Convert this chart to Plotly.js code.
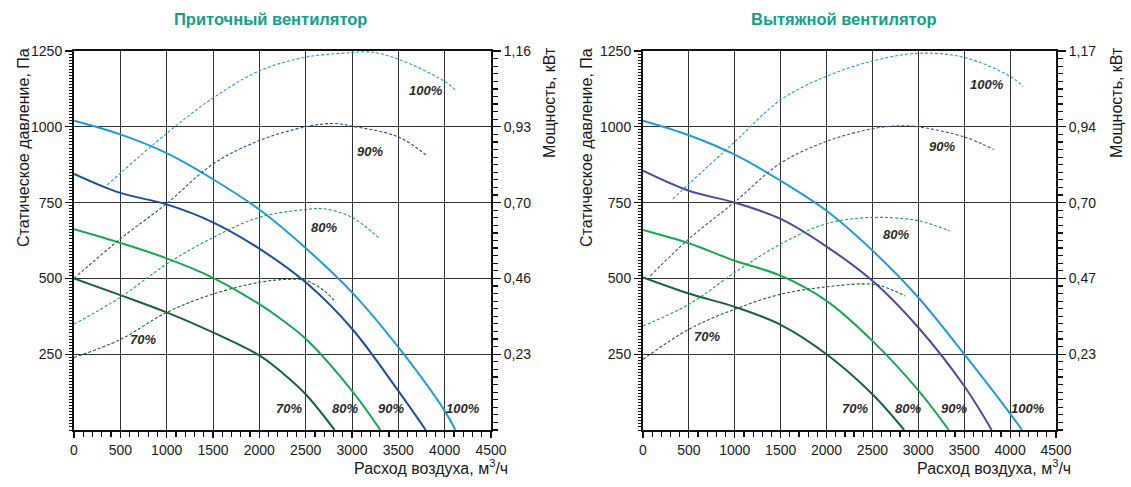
<!DOCTYPE html>
<html>
<head>
<meta charset="utf-8">
<script src="https://cdn.plot.ly/plotly-3.0.1.min.js"></script>
<style>html,body{margin:0;padding:0;background:#fff;}#chart{width:1131px;height:487px;}</style>
</head>
<body>
<div id="chart"></div>
<script>
// ---------- Titles / labels ----------
const titleLeft = "Приточный вентилятор";
const titleRight = "Вытяжной вентилятор";
const yTitlePressure = "Статическое давление, Па";
const yTitlePower = "Мощность, кВт";
const xTitle = "Расход воздуха, м<sup>3</sup>/ч";
const speedLabels = ["100%", "90%", "80%", "70%"];

// ---------- Axis ticks ----------
const xTicks = [0, 500, 1000, 1500, 2000, 2500, 3000, 3500, 4000, 4500];
const pressureTicks = [250, 500, 750, 1000, 1250];
const powerTicksLeft = [0.232, 0.464, 0.696, 0.928, 1.16];
const powerTextLeft = ["0,23", "0,46", "0,70", "0,93", "1,16"];
const powerTicksRight = [0.234, 0.468, 0.702, 0.936, 1.17];
const powerTextRight = ["0,23", "0,47", "0,70", "0,94", "1,17"];

// ---------- Left chart (supply fan): static pressure, Pa ----------
const L_p100_x = [0, 500, 1000, 1500, 2000, 2500, 3000, 3500, 4000, 4116];
const L_p100_y = [1020, 975, 913, 827, 727, 600, 454, 273, 63, 0];
const L_p90_x = [0, 500, 1000, 1500, 2000, 2500, 3000, 3500, 3796];
const L_p90_y = [845, 782, 744, 685, 598, 487, 334, 129, 0];
const L_p80_x = [0, 500, 1000, 1500, 2000, 2250, 2500, 3000, 3306];
const L_p80_y = [662, 617, 566, 502, 415, 362, 301, 129, 0];
const L_p70_x = [0, 500, 1000, 1500, 2000, 2250, 2500, 2813];
const L_p70_y = [500, 445, 388, 322, 246, 188, 118, 0];

// ---------- Left chart: power, kW ----------
const L_w100_x = [358, 1000, 1500, 2000, 2500, 3000, 3200, 3500, 4000, 4116];
const L_w100_y = [0.750, 0.908, 1.016, 1.099, 1.141, 1.155, 1.157, 1.135, 1.067, 1.041];
const L_w90_x = [0, 500, 1000, 1500, 2000, 2500, 2800, 3000, 3500, 3807];
const L_w90_y = [0.464, 0.585, 0.693, 0.814, 0.886, 0.928, 0.938, 0.930, 0.897, 0.840];
const L_w80_x = [0, 500, 1000, 1500, 2000, 2500, 2700, 3000, 3300];
const L_w80_y = [0.324, 0.406, 0.508, 0.589, 0.651, 0.675, 0.677, 0.651, 0.585];
const L_w70_x = [0, 500, 1000, 1500, 2000, 2300, 2500, 2700, 2825];
const L_w70_y = [0.222, 0.277, 0.360, 0.416, 0.452, 0.461, 0.458, 0.426, 0.391];

// ---------- Right chart (exhaust fan): static pressure, Pa ----------
const R_p100_x = [0, 500, 1000, 1500, 2000, 2500, 3000, 3500, 4000, 4129];
const R_p100_y = [1020, 972, 908, 822, 723, 592, 437, 250, 54, 0];
const R_p90_x = [0, 500, 1000, 1500, 2000, 2500, 3000, 3500, 3799];
const R_p90_y = [855, 789, 750, 696, 605, 492, 338, 145, 0];
const R_p80_x = [0, 500, 1000, 1500, 2000, 2500, 3000, 3332];
const R_p80_y = [660, 616, 558, 509, 426, 294, 131, 0];
const R_p70_x = [0, 500, 1000, 1500, 2000, 2500, 2846];
const R_p70_y = [503, 450, 406, 347, 250, 118, 0];

// ---------- Right chart: power, kW ----------
const R_w100_x = [323, 1000, 1500, 2000, 2500, 3000, 3500, 4000, 4141];
const R_w100_y = [0.713, 0.890, 1.019, 1.092, 1.139, 1.163, 1.150, 1.092, 1.061];
const R_w90_x = [80, 500, 1000, 1500, 2000, 2500, 2800, 3000, 3500, 3822];
const R_w90_y = [0.476, 0.590, 0.704, 0.824, 0.891, 0.930, 0.939, 0.936, 0.905, 0.866];
const R_w80_x = [0, 500, 1000, 1500, 2000, 2500, 3000, 3344];
const R_w80_y = [0.321, 0.388, 0.486, 0.574, 0.637, 0.656, 0.646, 0.614];
const R_w70_x = [0, 500, 1000, 1500, 2000, 2500, 2700, 2858];
const R_w70_y = [0.218, 0.311, 0.373, 0.419, 0.442, 0.450, 0.434, 0.414];

// ---------- Label positions ----------
const L_powerLabel_x = [3800, 3198, 2701, 744];
const L_powerLabel_y = [1120, 920, 669, 299];
const L_curveLabel_x = [4200, 3422, 2925, 2324];
const R_powerLabel_x = [3752, 3254, 2753, 700];
const R_powerLabel_y = [1139, 935, 645, 307];
const R_curveLabel_x = [4191, 3394, 2889, 2306];
const curveLabel_y = 70;

// ---------- Styles ----------
const cLight = '#1e9dda', cDarkBlue = '#1d4f9b', cPurple = '#4b4b9f', cGreen = '#17a852', cDarkGreen = '#17643a';
const FONT = 'Liberation Sans, Arial, sans-serif';

function solid(x, y, color, xa, ya) {
  return {x, y, xaxis: xa, yaxis: ya, mode: 'lines', type: 'scatter',
    line: {color, width: 2, shape: 'spline', smoothing: 1}, hoverinfo: 'skip', showlegend: false};
}
function dashed(x, y, color, xa, ya) {
  return {x, y, xaxis: xa, yaxis: ya, mode: 'lines', type: 'scatter',
    line: {color, width: 1.1, dash: '3px,2px', shape: 'spline', smoothing: 1}, hoverinfo: 'skip', showlegend: false};
}

const data = [
  dashed(L_w100_x, L_w100_y, cLight, 'x', 'y2'),
  dashed(L_w90_x, L_w90_y, cDarkBlue, 'x', 'y2'),
  dashed(L_w80_x, L_w80_y, cGreen, 'x', 'y2'),
  dashed(L_w70_x, L_w70_y, cDarkGreen, 'x', 'y2'),
  solid(L_p100_x, L_p100_y, cLight, 'x', 'y'),
  solid(L_p90_x, L_p90_y, cDarkBlue, 'x', 'y'),
  solid(L_p80_x, L_p80_y, cGreen, 'x', 'y'),
  solid(L_p70_x, L_p70_y, cDarkGreen, 'x', 'y'),
  dashed(R_w100_x, R_w100_y, cLight, 'x2', 'y5'),
  dashed(R_w90_x, R_w90_y, cPurple, 'x2', 'y5'),
  dashed(R_w80_x, R_w80_y, cGreen, 'x2', 'y5'),
  dashed(R_w70_x, R_w70_y, cDarkGreen, 'x2', 'y5'),
  solid(R_p100_x, R_p100_y, cLight, 'x2', 'y4'),
  solid(R_p90_x, R_p90_y, cPurple, 'x2', 'y4'),
  solid(R_p80_x, R_p80_y, cGreen, 'x2', 'y4'),
  solid(R_p70_x, R_p70_y, cDarkGreen, 'x2', 'y4')
];

const tickFont = {family: FONT, size: 14, color: '#1a1a1a'};
const yDom = [1 - 430 / 487, 1 - 51 / 487];
const xDomL = [74 / 1131, 491 / 1131];
const xDomR = [643 / 1131, 1056 / 1131];
const GRID = '#333333';

function xMain(domain, anchor) {
  return {domain, anchor, range: [0, 4500], tickmode: 'array', tickvals: xTicks,
    showgrid: true, gridcolor: GRID, gridwidth: 1,
    showline: true, linecolor: '#111', linewidth: 2, mirror: true,
    ticks: 'outside', ticklen: 6, tickcolor: '#111', tickwidth: 1.2,
    minor: {dtick: 100, tick0: 0, ticklen: 5, tickcolor: '#111', tickwidth: 1.2, showgrid: false},
    tickfont: tickFont, zeroline: false, fixedrange: true};
}
function xTop(overlay, anchor) {
  return {overlaying: overlay, anchor, side: 'top', range: [0, 4500], dtick: 100, tick0: 0,
    ticks: 'inside', ticklen: 5, tickcolor: '#111', tickwidth: 1.2, showticklabels: false,
    showgrid: false, showline: false, zeroline: false, fixedrange: true};
}
function yPressure(anchor) {
  return {domain: yDom, anchor, range: [0, 1250], tickmode: 'array', tickvals: pressureTicks,
    showgrid: true, gridcolor: GRID, gridwidth: 1,
    showline: true, linecolor: '#111', linewidth: 2, mirror: false,
    ticks: 'outside', ticklen: 7, tickcolor: '#111', tickwidth: 1.2,
    minor: {dtick: 10, tick0: 0, ticklen: 3, tickcolor: '#111', tickwidth: 1, showgrid: false},
    tickfont: tickFont, zeroline: false, fixedrange: true};
}
function yMidTicks(overlay, anchor) {
  return {overlaying: overlay, anchor, side: 'left', range: [0, 1250], dtick: 50, tick0: 0,
    ticks: 'outside', ticklen: 6, tickcolor: '#111', tickwidth: 1.2, showticklabels: false,
    showgrid: false, showline: false, zeroline: false, fixedrange: true};
}
function yPower(overlay, anchor, maxv, vals, text) {
  return {overlaying: overlay, anchor, side: 'right', range: [0, maxv], tickmode: 'array',
    tickvals: vals, ticktext: text, showgrid: false,
    showline: true, linecolor: '#111', linewidth: 2,
    ticks: 'outside', ticklen: 8, tickcolor: '#111', tickwidth: 1.2,
    minor: {dtick: maxv / 50, tick0: 0, ticklen: 5, tickcolor: '#111', tickwidth: 1.2, showgrid: false},
    tickfont: tickFont, zeroline: false, fixedrange: true};
}

const annotations = [];
function txt(text, x, y, opts) {
  annotations.push(Object.assign({text, x, y, showarrow: false, xref: 'paper', yref: 'paper',
    xanchor: 'center', yanchor: 'middle',
    font: {family: FONT, size: 16, color: '#1a1a1a'}}, opts || {}));
}
// Chart titles
const titleFont = {family: FONT, size: 16.5, color: '#14a08b'};
txt('<b>' + titleLeft + '</b>', 270 / 1131, 1 - 19 / 487, {font: titleFont});
txt('<b>' + titleRight + '</b>', 844 / 1131, 1 - 19 / 487, {font: titleFont});
// Axis titles
txt(yTitlePressure, 23 / 1131, 1 - 148 / 487, {textangle: -90});
txt(yTitlePressure, 586 / 1131, 1 - 148 / 487, {textangle: -90});
txt(yTitlePower, 550 / 1131, 1 - 103 / 487, {textangle: -90});
txt(yTitlePower, 1117 / 1131, 1 - 103 / 487, {textangle: -90});
txt(xTitle, 510 / 1131, 1 - 467 / 487, {xanchor: 'right'});
txt(xTitle, 1073 / 1131, 1 - 467 / 487, {xanchor: 'right'});
// Percentage labels
const lblFont = {family: FONT, size: 13, color: '#2b2b2b'};
function lbl(text, x, y, xref, yref) {
  annotations.push({text: '<b><i>' + text + '</i></b>', x, y, xref, yref, showarrow: false,
    xanchor: 'center', yanchor: 'middle', font: lblFont});
}
for (let i = 0; i < 4; i++) {
  lbl(speedLabels[i], L_powerLabel_x[i], L_powerLabel_y[i], 'x', 'y');
  lbl(speedLabels[i], L_curveLabel_x[i], curveLabel_y, 'x', 'y');
  lbl(speedLabels[i], R_powerLabel_x[i], R_powerLabel_y[i], 'x2', 'y4');
  lbl(speedLabels[i], R_curveLabel_x[i], curveLabel_y, 'x2', 'y4');
}

const layout = {
  width: 1131, height: 487,
  margin: {l: 0, r: 0, t: 0, b: 0},
  paper_bgcolor: '#fff', plot_bgcolor: '#fff',
  showlegend: false,
  font: {family: FONT},
  xaxis: xMain(xDomL, 'y'),
  xaxis2: xMain(xDomR, 'y4'),
  xaxis3: xTop('x', 'y'),
  xaxis4: xTop('x2', 'y4'),
  yaxis: yPressure('x'),
  yaxis2: yPower('y', 'x', 1.16, powerTicksLeft, powerTextLeft),
  yaxis3: yMidTicks('y', 'x'),
  yaxis4: yPressure('x2'),
  yaxis5: yPower('y4', 'x2', 1.17, powerTicksRight, powerTextRight),
  yaxis6: yMidTicks('y4', 'x2'),
  annotations
};

Plotly.newPlot('chart', data, layout, {staticPlot: true, displayModeBar: false});
</script>
</body>
</html>
